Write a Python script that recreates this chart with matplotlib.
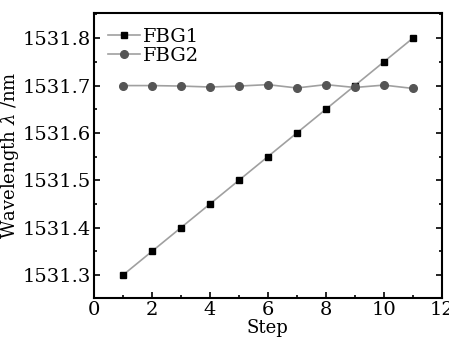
import matplotlib.pyplot as plt
from matplotlib.ticker import MultipleLocator

steps = [1, 2, 3, 4, 5, 6, 7, 8, 9, 10, 11]
fbg1 = [1531.30, 1531.35, 1531.40, 1531.45, 1531.50, 1531.55,
        1531.60, 1531.65, 1531.70, 1531.75, 1531.80]
fbg2 = [1531.700, 1531.700, 1531.699, 1531.697, 1531.699, 1531.702,
        1531.695, 1531.702, 1531.696, 1531.701, 1531.694]

plt.rcParams['font.family'] = ['DejaVu Serif']
plt.rcParams['mathtext.fontset'] = 'dejavuserif'

fig = plt.figure(figsize=(4.49, 3.44), dpi=100)
ax = fig.add_axes([0.209, 0.134, 0.775, 0.828])

ax.plot(steps, fbg1, color='#a0a0a0', lw=1.2, marker='s', ms=5,
        mfc='black', mec='black', label='FBG1')
ax.plot(steps, fbg2, color='#a0a0a0', lw=1.2, marker='o', ms=5.5,
        mfc='#555555', mec='#555555', label='FBG2')

ax.set_xlim(0, 12)
ax.set_ylim(1531.252, 1531.853)
ax.xaxis.set_major_locator(MultipleLocator(2))
ax.xaxis.set_minor_locator(MultipleLocator(1))
ax.yaxis.set_major_locator(MultipleLocator(0.1))
ax.yaxis.set_minor_locator(MultipleLocator(0.05))
ax.tick_params(which='both', direction='in', right=True, top=False,
               labelsize=14, width=1.2)
ax.tick_params(which='major', length=4, pad=2)
ax.tick_params(which='minor', length=2.5)
ax.yaxis.get_major_formatter().set_useOffset(False)
for s in ax.spines.values():
    s.set_linewidth(1.5)

ax.set_xlabel('Step', fontsize=13, labelpad=0)
ax.set_ylabel(r'Wavelength $\lambda$ /nm', fontsize=13, labelpad=1)
ax.legend(loc='upper left', frameon=False, fontsize=14, handlelength=1.6,
          handletextpad=0.2, labelspacing=0.05, borderaxespad=0.35)

fig.savefig('out.png', dpi=100)
